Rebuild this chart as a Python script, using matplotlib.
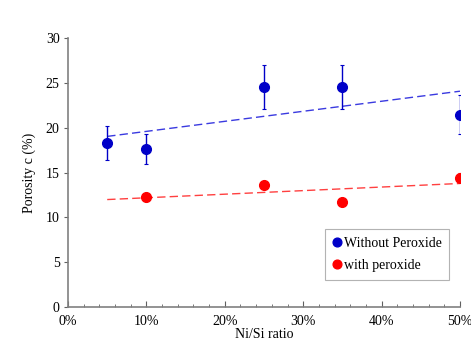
import matplotlib
matplotlib.use("Agg")
import matplotlib.pyplot as plt
import numpy as np
from matplotlib.ticker import MultipleLocator, FuncFormatter

plt.rcParams["font.family"] = ["Liberation Serif", "DejaVu Serif"]
plt.rcParams["font.size"] = 10

# Ni/Si ratio (%) and porosity (%)
ratio_no_perox = [5, 10, 25, 35, 50]
poro_no_perox = [18.3, 17.6, 24.5, 24.5, 21.45]
err_no_perox = [1.85, 1.7, 2.45, 2.45, 2.2]

ratio_perox = [10, 25, 35, 50]
poro_perox = [12.26, 13.57, 11.67, 14.43]
err_perox = [0.4, 0.4, 0.3, 0.5]

blue = "#0000c8"
red = "#ff0000"

fig = plt.figure(figsize=(4.71, 3.49), dpi=100)
ax = fig.add_axes([0.1444, 0.1203, 0.8322, 0.7707])

# linear trendlines over the 5-50 % range
xs = np.array([5, 50])
for x, y, c in [(ratio_no_perox, poro_no_perox, "#3a3ae0"), (ratio_perox, poro_perox, "#ff4040")]:
    k, b = np.polyfit(x, y, 1)
    ax.plot(xs, k * xs + b, ls=(0, (6, 3)), color=c, lw=1.0, zorder=2)

ax.errorbar(ratio_no_perox, poro_no_perox, yerr=err_no_perox, fmt="o", color=blue,
            ms=7, elinewidth=1.0, capsize=1.5, capthick=0.8, label="Without Peroxide", zorder=3)
ax.errorbar(ratio_perox, poro_perox, yerr=err_perox, fmt="o", color=red,
            ms=7, elinewidth=1.0, capsize=1.5, capthick=0.8, label="with peroxide", zorder=3)

ax.set_xlim(0, 50)
ax.set_ylim(0, 30)
ax.xaxis.set_major_locator(MultipleLocator(10))
ax.xaxis.set_minor_locator(MultipleLocator(2))
ax.yaxis.set_major_locator(MultipleLocator(5))
ax.xaxis.set_major_formatter(FuncFormatter(lambda v, p: f"{v:.0f}%"))

for s in ["top", "right"]:
    ax.spines[s].set_visible(False)
for s in ["left", "bottom"]:
    ax.spines[s].set_color("#808080")
    ax.spines[s].set_linewidth(1.2)

ax.tick_params(axis="x", which="major", direction="in", length=4, color="#606060", pad=6)
ax.tick_params(axis="x", which="minor", direction="in", length=2.5, color="#606060")
ax.tick_params(axis="y", direction="out", length=3, color="#606060", pad=3)

ax.set_xlabel("Ni/Si ratio", labelpad=0)
ax.set_ylabel("Porosity c (%)", labelpad=7)

handles, labels = ax.get_legend_handles_labels()
handles = [h[0] for h in handles]
leg = ax.legend(handles, labels, loc="lower right", bbox_to_anchor=(0.99, 0.075),
                frameon=True, fancybox=False, edgecolor="#a0a0a0", handlelength=0.6,
                handletextpad=0.2, borderpad=0.55, labelspacing=0.7, markerscale=0.9)
leg.get_frame().set_linewidth(0.8)

fig.savefig("out.png", dpi=100)
